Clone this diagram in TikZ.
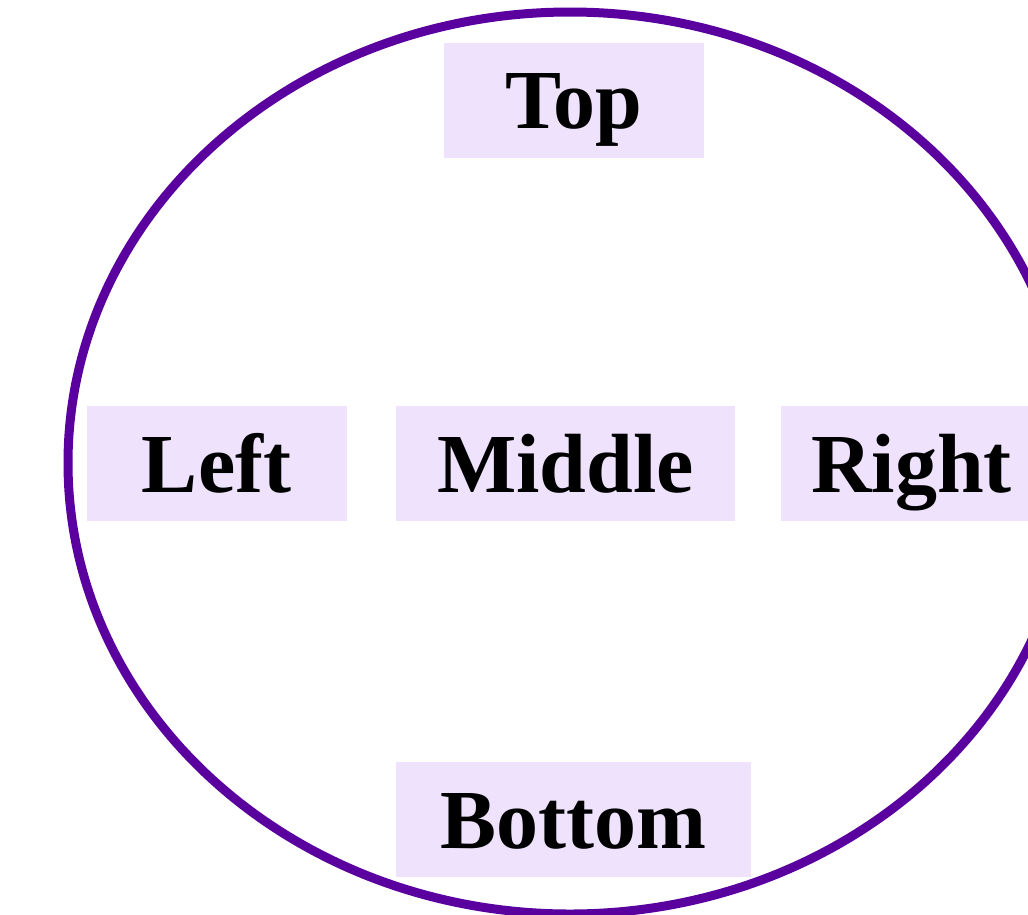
\documentclass[tikz,border=0pt]{standalone}
\usepackage{fontspec}
\setmainfont{Liberation Serif}
\usetikzlibrary{positioning}
\definecolor{ringpurple}{HTML}{5A009E}
\definecolor{boxlilac}{HTML}{EEE2FC}

\begin{document}
\begin{tikzpicture}[
  x=1pt, y=-1pt,
  label box/.style={fill=boxlilac, inner sep=0pt, minimum height=115pt,
    font=\fontsize{84}{100}\selectfont\bfseries, text height=57pt, text depth=0pt},
  ring/.style={draw=ringpurple, line width=9pt}
]
\useasboundingbox (0,0) rectangle (1028,914);
\draw[ring] (570,463) ellipse [x radius=502pt, y radius=451pt];

\node[label box, minimum width=339pt] (middle) at (565.5,463.5) {Middle};
\node[label box, minimum width=260pt, left=49pt of middle] (left) {Left};
\node[label box, minimum width=260pt, right=46pt of middle] (right) {Right};
\node[label box, minimum width=260pt] (top) at (574,100) {Top};
\node[label box, minimum width=355pt] (bottom) at (573.5,819.5) {Bottom};
\end{tikzpicture}
\end{document}
